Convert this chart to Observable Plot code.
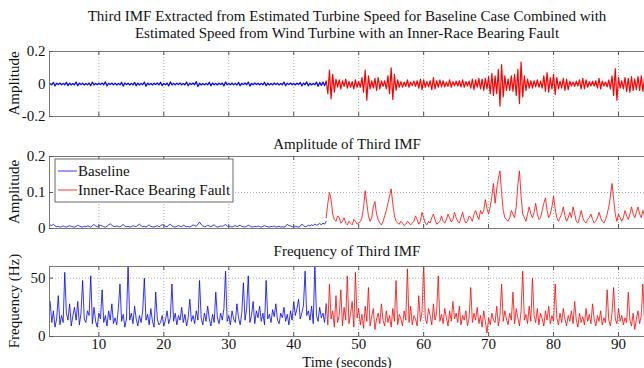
<!DOCTYPE html>
<html><head><meta charset="utf-8">
<script src="https://cdn.jsdelivr.net/npm/d3@7"></script>
<script src="https://cdn.jsdelivr.net/npm/@observablehq/plot@0.6"></script>
<style>
body{margin:0;background:#fff;}
#wrap{position:relative;width:644px;height:368px;overflow:hidden;background:#fff;font-family:"Liberation Serif","Times New Roman",serif;}
#wrap svg{position:absolute;left:0;}
</style></head><body><div id="wrap"></div>
<script>
// ---- data ----
const t0 = 2.5, dt = 0.25, tSplit = 45;        // sample times (s)
const xTicks = [10, 20, 30, 40, 50, 60, 70, 80, 90];
const seriesNames = ["Baseline", "Inner-Race Bearing Fault"];
const seriesColors = ["#0000ff", "#ff0000"];
const titleLines = [
  "Third IMF Extracted from Estimated Turbine Speed for Baseline Case Combined with",
  "Estimated Speed from Wind Turbine with an Inner-Race Bearing Fault"
];
const panelTitles = ["Amplitude of Third IMF", "Frequency of Third IMF"];
const yLabels = ["Amplitude", "Amplitude", "Frequency (Hz)"];
const xLabel = "Time (seconds)";
const yTicksImf = [-0.2, 0, 0.2];
const yTicksAmp = [0, 0.1, 0.2];
const yTicksFreq = [0, 50];

// Third IMF (amplitude units)
const imfBaseline = [
0.004,-0.006,0.010,-0.012,0.005,-0.004,0.006,-0.005,
0.004,-0.005,0.011,-0.010,0.005,-0.006,0.004,-0.005,
0.012,-0.011,0.006,-0.004,0.005,-0.006,0.004,-0.005,
0.006,-0.010,0.012,-0.006,0.004,-0.005,0.005,-0.004,
0.006,-0.005,0.013,-0.012,0.005,-0.004,0.006,-0.005,
0.005,-0.006,0.004,-0.005,0.011,-0.013,0.006,-0.004,
0.005,-0.006,0.004,-0.005,0.010,-0.011,0.005,-0.006,
0.004,-0.005,0.012,-0.014,0.006,-0.005,0.004,-0.006,
0.005,-0.004,0.006,-0.005,0.011,-0.010,0.004,-0.005,
0.006,-0.012,0.013,-0.006,0.004,-0.005,0.005,-0.004,
0.006,-0.005,0.004,-0.006,0.012,-0.011,0.005,-0.004,
0.006,-0.005,0.015,-0.016,0.005,-0.006,0.004,-0.005,
0.004,-0.005,0.011,-0.010,0.006,-0.005,0.004,-0.006,
0.005,-0.004,0.006,-0.012,0.013,-0.005,0.004,-0.005,
0.006,-0.005,0.004,-0.006,0.010,-0.011,0.005,-0.004,
0.006,-0.005,0.012,-0.013,0.004,-0.005,0.006,-0.004,
0.005,-0.006,0.004,-0.005,0.011,-0.010,0.005,-0.006,
0.004,-0.005,0.006,-0.004,0.005,-0.006,0.004,-0.005,
0.012,-0.011,0.005,-0.004,0.006,-0.005,0.004,-0.006,
0.005,-0.004,0.010,-0.012,0.006,-0.005,0.013,-0.011,
0.005,-0.006,0.004,-0.005,0.012,-0.014,0.010,-0.009,
0.012,-0.010,0.015
];
const imfFault = [
0.02,-0.06,0.085,-0.09,0.06,-0.05,0.03,-0.02,
0.025,-0.03,0.02,-0.015,0.03,-0.025,0.015,-0.02,
0.015,-0.03,0.025,-0.02,0.015,-0.02,0.04,-0.05,
0.085,-0.10,0.05,-0.03,0.02,-0.025,0.035,-0.04,
0.04,-0.03,0.02,-0.015,0.02,-0.03,0.05,-0.06,
0.10,-0.095,0.06,-0.04,0.025,-0.02,0.015,-0.02,
0.012,-0.015,0.025,-0.02,0.012,-0.01,0.018,-0.015,
0.02,-0.025,0.03,-0.035,0.025,-0.02,0.015,-0.018,
0.02,-0.035,0.04,-0.03,0.02,-0.02,0.025,-0.018,
0.02,-0.018,0.012,-0.015,0.025,-0.02,0.015,-0.012,
0.018,-0.012,0.02,-0.018,0.025,-0.02,0.015,-0.012,
0.018,-0.025,0.03,-0.035,0.025,-0.02,0.035,-0.03,
0.03,-0.04,0.035,-0.03,0.045,-0.06,0.065,-0.07,
0.05,-0.06,0.09,-0.135,0.12,-0.08,0.05,-0.04,
0.03,-0.04,0.05,-0.045,0.06,-0.07,0.09,-0.12,
0.135,-0.08,0.05,-0.04,0.03,-0.025,0.02,-0.025,
0.02,-0.018,0.025,-0.02,0.018,-0.025,0.05,-0.045,
0.07,-0.05,0.04,-0.03,0.06,-0.065,0.04,-0.03,
0.018,-0.025,0.035,-0.04,0.03,-0.035,0.018,-0.012,
0.012,-0.015,0.018,-0.012,0.025,-0.03,0.035,-0.03,
0.025,-0.02,0.015,-0.012,0.018,-0.012,0.02,-0.025,
0.035,-0.03,0.018,-0.012,0.012,-0.018,0.025,-0.03,
0.05,-0.07,0.095,-0.10,0.04,-0.025,0.02,-0.03,
0.04,-0.045,0.035,-0.05,0.045,-0.04,0.03,-0.035,
0.045,-0.04,0.05,-0.045,0.035,-0.03,0.04
];

// Amplitude of third IMF
const ampBaseline = [
0.010,0.008,0.012,0.007,0.005,0.006,0.004,0.005,
0.007,0.005,0.004,0.006,0.008,0.006,0.005,0.004,
0.006,0.009,0.007,0.005,0.004,0.006,0.005,0.007,
0.006,0.004,0.008,0.011,0.007,0.005,0.006,0.009,
0.007,0.005,0.004,0.006,0.010,0.013,0.009,0.006,
0.005,0.007,0.006,0.004,0.008,0.011,0.007,0.005,
0.006,0.004,0.005,0.008,0.006,0.005,0.009,0.012,
0.008,0.005,0.006,0.004,0.007,0.010,0.006,0.005,
0.004,0.006,0.008,0.005,0.007,0.011,0.008,0.006,
0.005,0.009,0.012,0.007,0.005,0.004,0.006,0.008,
0.006,0.005,0.009,0.007,0.005,0.006,0.004,0.007,
0.010,0.008,0.006,0.012,0.018,0.011,0.007,0.005,
0.006,0.009,0.007,0.005,0.008,0.010,0.006,0.004,
0.005,0.007,0.006,0.008,0.011,0.007,0.005,0.006,
0.004,0.006,0.008,0.005,0.007,0.009,0.006,0.005,
0.004,0.006,0.009,0.007,0.005,0.004,0.006,0.005,
0.007,0.005,0.004,0.006,0.008,0.006,0.005,0.004,
0.006,0.005,0.007,0.004,0.005,0.006,0.004,0.005,
0.004,0.006,0.012,0.008,0.007,0.005,0.004,0.006,
0.005,0.004,0.006,0.012,0.008,0.005,0.006,0.009,
0.007,0.010,0.008,0.012,0.009,0.011,0.014,0.010,
0.015,0.012,0.020
];
const ampFault = [
0.03,0.07,0.10,0.08,0.04,0.025,0.02,0.035,
0.03,0.015,0.02,0.03,0.015,0.01,0.02,0.015,
0.01,0.025,0.02,0.012,0.015,0.02,0.03,0.06,
0.105,0.07,0.035,0.02,0.03,0.06,0.075,0.04,
0.025,0.015,0.01,0.02,0.035,0.05,0.07,0.09,
0.11,0.07,0.035,0.02,0.015,0.012,0.02,0.015,
0.008,0.012,0.02,0.015,0.01,0.015,0.02,0.035,
0.025,0.012,0.02,0.045,0.03,0.015,0.01,0.02,
0.015,0.03,0.04,0.025,0.012,0.015,0.02,0.035,
0.02,0.015,0.025,0.04,0.03,0.018,0.025,0.045,
0.03,0.02,0.015,0.03,0.045,0.025,0.015,0.02,
0.035,0.03,0.02,0.04,0.05,0.035,0.025,0.05,
0.04,0.05,0.08,0.055,0.04,0.06,0.09,0.125,
0.07,0.11,0.14,0.16,0.10,0.05,0.03,0.025,
0.02,0.03,0.05,0.04,0.03,0.06,0.12,0.16,
0.09,0.04,0.03,0.02,0.04,0.06,0.04,0.03,
0.045,0.07,0.04,0.025,0.03,0.05,0.07,0.085,
0.05,0.03,0.04,0.06,0.09,0.055,0.03,0.02,
0.03,0.04,0.06,0.035,0.02,0.03,0.045,0.03,
0.06,0.04,0.02,0.015,0.03,0.05,0.03,0.02,
0.015,0.025,0.03,0.04,0.025,0.015,0.02,0.03,
0.045,0.03,0.02,0.015,0.025,0.04,0.06,0.09,
0.125,0.08,0.04,0.02,0.04,0.03,0.02,0.03,
0.05,0.035,0.025,0.04,0.06,0.04,0.03,0.045,
0.06,0.04,0.03,0.05,0.035,0.02,0.03
];

// Frequency of third IMF (Hz)
const freqBaseline = [
30,12,22,8,15,35,10,18,
12,55,20,14,28,9,18,25,
14,30,10,20,48,15,12,22,
18,52,11,25,13,8,20,15,
40,12,18,9,22,14,28,11,
16,10,24,45,13,19,8,15,
62,14,20,11,26,15,9,18,
12,22,50,14,19,10,24,13,
8,38,15,10,12,18,9,14,
22,11,16,45,13,20,10,18,
14,25,12,19,9,16,32,13,
18,11,22,14,48,16,10,20,
13,26,15,9,19,12,38,16,
11,20,14,24,56,13,18,10,
22,15,12,28,16,10,20,46,
14,24,52,12,18,30,11,22,
16,26,13,20,10,48,15,19,
12,23,17,28,14,11,20,16,
25,13,19,10,22,14,30,18,
24,32,15,20,27,56,18,22,
14,26,11,62,18,13,25,16,
20,12,28
];
const freqFault = [
28,10,45,15,22,8,35,12,
18,40,9,25,14,52,11,20,
30,8,55,16,24,10,19,7,
26,13,42,9,17,24,6,15,
20,11,28,14,9,22,12,18,
8,24,13,48,10,19,15,9,
22,14,58,12,26,10,18,15,
9,35,13,21,62,16,11,24,
18,10,28,14,20,52,13,19,
11,24,16,9,22,13,30,15,
20,12,26,10,18,14,22,9,
16,42,12,20,14,25,11,18,
8,22,13,3,16,10,20,14,
12,26,9,18,45,13,22,15,
10,20,14,38,11,24,16,9,
22,56,14,19,11,26,13,50,
18,12,24,10,20,15,9,22,
14,26,11,18,13,45,16,10,
20,12,24,15,9,18,13,22,
11,30,14,8,20,12,17,10,
24,13,19,11,28,15,9,18,
13,22,10,16,12,40,14,9,
20,42,15,11,24,13,18,10,
16,12,38,14,9,20,6,15,
22,11,18,45,13,9,16
];

// ---- build ----
function rows(base, fault) {
  return [
    ...base.map((v, i) => ({t: t0 + i * dt, v, s: seriesNames[0]})),
    ...fault.map((v, i) => ({t: tSplit + i * dt, v, s: seriesNames[1]}))
  ];
}
const wrap = document.getElementById("wrap");
const FONT = "Liberation Serif, Times New Roman, serif";
const ML = 49, MR = 0, MT = 12;
const innerW = 644 - ML - MR;

function panel({data, yDomain, yTicks, gridY, top, frameH, mb, showX, sw}) {
  const marks = [
    Plot.ruleX(xTicks, {stroke: "#9a9a9a", strokeWidth: 0.8, strokeDasharray: "1,2"}),
    Plot.ruleY(gridY, {stroke: "#9a9a9a", strokeWidth: 0.8, strokeDasharray: "1,2"}),
    Plot.line(data, {x: "t", y: "v", z: "s", stroke: "s", strokeWidth: sw, clip: true}),
    Plot.frame({stroke: "#777", strokeWidth: 1}),
    Plot.tickX(xTicks, {x: d => d, insetTop: frameH - 4, stroke: "#555"}),
    Plot.tickX(xTicks, {x: d => d, insetBottom: frameH - 4, stroke: "#555"}),
    Plot.tickY(yTicks, {y: d => d, insetRight: innerW - 4, stroke: "#555"}),
    Plot.axisY(yTicks, {tickSize: 0, tickPadding: 4, tickFormat: d => String(d), fontSize: 15, fill: "#111", label: null})
  ];
  if (showX) marks.push(Plot.axisX(xTicks, {tickSize: 0, tickPadding: 2, fontSize: 15, fill: "#111", label: null}));
  const p = Plot.plot({
    width: 644, height: MT + frameH + mb,
    marginTop: MT, marginBottom: mb, marginLeft: ML, marginRight: MR,
    style: {background: "transparent", fontFamily: FONT, fontSize: "15px", overflow: "visible"},
    x: {domain: [2.4, 94], axis: null},
    y: {domain: yDomain, axis: null},
    color: {domain: seriesNames, range: seriesColors},
    marks
  });
  p.style.top = (top - MT) + "px";
  wrap.appendChild(p);
}

panel({data: rows(imfBaseline, imfFault), yDomain: [-0.2, 0.2], yTicks: yTicksImf, gridY: [0],
       top: 51, frameH: 65, mb: 12, showX: false, sw: 1.2});
panel({data: rows(ampBaseline, ampFault), yDomain: [0, 0.2], yTicks: yTicksAmp, gridY: [0.1],
       top: 156, frameH: 72, mb: 12, showX: false, sw: 0.8});
panel({data: rows(freqBaseline, freqFault), yDomain: [0, 60], yTicks: yTicksFreq, gridY: [50],
       top: 266, frameH: 70, mb: 30, showX: true, sw: 0.8});

// overlay with titles, labels, legend
const ov = d3.create("svg").attr("width", 644).attr("height", 368)
  .style("top", "0px").style("pointer-events", "none")
  .attr("font-family", FONT).attr("font-size", 15).attr("fill", "#111");
const cx = 347;
ov.append("text").attr("x", cx).attr("y", 21).attr("text-anchor", "middle").text(titleLines[0]);
ov.append("text").attr("x", cx).attr("y", 38).attr("text-anchor", "middle").text(titleLines[1]);
ov.append("text").attr("x", cx).attr("y", 149).attr("text-anchor", "middle").text(panelTitles[0]);
ov.append("text").attr("x", cx).attr("y", 256).attr("text-anchor", "middle").text(panelTitles[1]);
ov.append("text").attr("x", cx).attr("y", 366.5).attr("text-anchor", "middle").attr("font-size", 14.5).text(xLabel);
[[83.5, 0], [192, 1], [301, 2]].forEach(([cy, i]) => {
  ov.append("text").attr("transform", `translate(19,${cy}) rotate(-90)`)
    .attr("text-anchor", "middle").text(yLabels[i]);
});
// legend
const lg = ov.append("g");
lg.append("rect").attr("x", 55).attr("y", 159).attr("width", 178).attr("height", 43)
  .attr("fill", "#fff").attr("stroke", "#444").attr("stroke-width", 0.8);
seriesNames.forEach((n, i) => {
  const y = 171 + i * 19;
  lg.append("line").attr("x1", 58).attr("x2", 77).attr("y1", y).attr("y2", y)
    .attr("stroke", seriesColors[i]).attr("stroke-width", 0.8);
  lg.append("text").attr("x", 78).attr("y", y + 5).text(n);
});
wrap.appendChild(ov.node());
</script>
</body></html>
